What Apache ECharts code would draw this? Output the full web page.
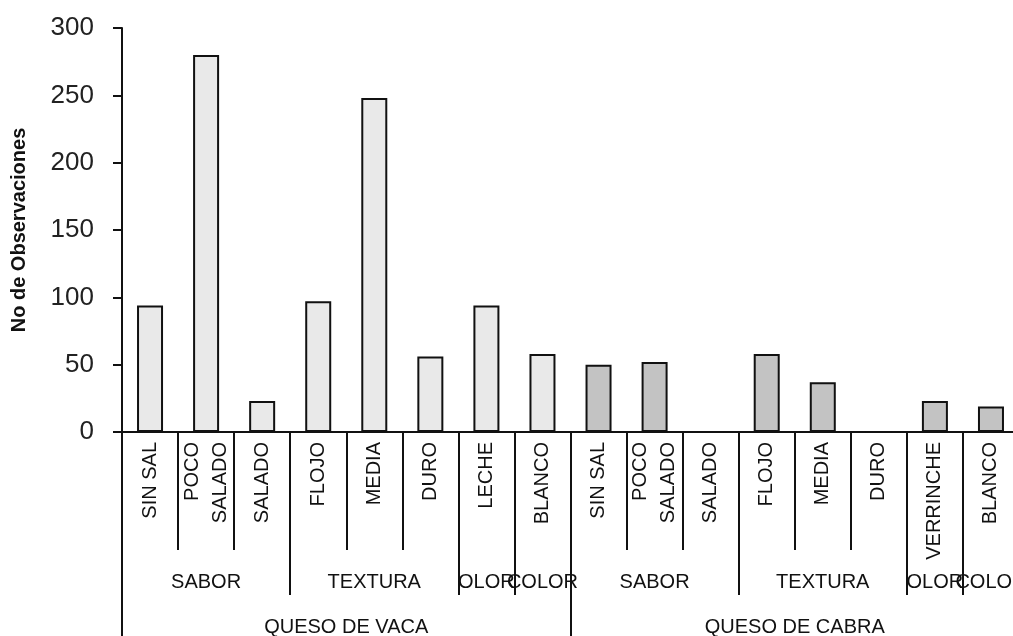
<!DOCTYPE html>
<html>
<head>
<meta charset="utf-8">
<script src="https://cdn.jsdelivr.net/npm/echarts@6/dist/echarts.min.js"></script>
<style>
  html, body { margin: 0; padding: 0; background: #fff; }
  #chart { width: 1013px; height: 636px; }
</style>
</head>
<body>
<div id="chart"></div>
<script>
// Cheese attributes, by milk type and attribute group
const categories = [
  'SIN SAL', 'POCO SALADO', 'SALADO', 'FLOJO', 'MEDIA', 'DURO', 'LECHE', 'BLANCO',
  'SIN SAL', 'POCO SALADO', 'SALADO', 'FLOJO', 'MEDIA', 'DURO', 'VERRINCHE', 'BLANCO'
];
const vacaValues  = [94, 280, 23, 97, 248, 56, 94, 58];
const cabraValues = [50, 52, 0, 58, 37, 0, 23, 19];

// Attribute groups: label and number of categories in each
const attrGroups = [
  ['SABOR', 3], ['TEXTURA', 3], ['OLOR', 1], ['COLOR', 1],
  ['SABOR', 3], ['TEXTURA', 3], ['OLOR', 1], ['COLOR', 1]
];
// Milk types: label and number of categories in each
const milkGroups = [['QUESO DE VACA', 8], ['QUESO DE CABRA', 8]];

const yTicks = { min: 0, max: 300, interval: 50 };
const yTitle = 'No de Observaciones';

const FONT = "'Liberation Sans', Arial, sans-serif";
const INK = '#111';

// Boundaries and centres of a grouping, in category units
function groupLayout(groups) {
  const bounds = [0], centres = [], names = {};
  let pos = 0;
  groups.forEach(([name, n]) => {
    const c = pos + n / 2;
    centres.push(c);
    names[c] = name;
    pos += n;
    bounds.push(pos);
  });
  return { bounds, centres, names };
}
const attrLayout = groupLayout(attrGroups);
const milkLayout = groupLayout(milkGroups);
const nCat = categories.length;

const pad = (arr, before, after) =>
  Array(before).fill(null).concat(arr, Array(after).fill(null));

// Group-level axis: long separator ticks at group edges, names at group centres.
// With padEnd, a blank label at the far end takes the max-label culling, so the
// overlapping last names (OLOR / COLOR) both stay visible.
function groupAxis(layout, tickLen, labelMargin, padEnd) {
  return {
    type: 'value',
    gridIndex: 0,
    position: 'bottom',
    min: 0,
    max: nCat,
    axisLine: { show: false },
    splitLine: { show: false },
    axisTick: {
      show: true,
      customValues: layout.bounds,
      length: tickLen,
      lineStyle: { color: INK, width: 2 }
    },
    axisLabel: {
      show: true,
      customValues: padEnd ? layout.centres.concat([nCat]) : layout.centres,
      formatter: v => layout.names[v] || '',
      margin: labelMargin,
      fontFamily: FONT,
      fontSize: 20,
      color: INK,
      hideOverlap: false,
      showMaxLabel: padEnd ? false : null
    }
  };
}

const chart = echarts.init(document.getElementById('chart'));
chart.setOption({
  animation: false,
  backgroundColor: '#fff',
  grid: {
    left: 122, right: -6, top: 28, bottom: 204,
    outerBoundsMode: 'none',
    containLabel: false
  },
  xAxis: [
    {
      type: 'category',
      data: categories,
      position: 'bottom',
      boundaryGap: true,
      axisLine: { show: true, lineStyle: { color: INK, width: 2 } },
      axisTick: {
        show: true, interval: 0, alignWithLabel: false, length: 118,
        lineStyle: { color: INK, width: 2 }
      },
      axisLabel: {
        interval: 0,
        rotate: 90,
        margin: 10,
        fontFamily: FONT,
        fontSize: 20,
        lineHeight: 28,
        color: INK,
        showMinLabel: true,
        showMaxLabel: true,
        formatter: v => v.replace('POCO ', 'POCO\n')
      },
      splitLine: { show: false }
    },
    groupAxis(attrLayout, 163, 140, true),
    groupAxis(milkLayout, 210, 185, false)
  ],
  yAxis: {
    type: 'value',
    min: yTicks.min,
    max: yTicks.max,
    interval: yTicks.interval,
    name: yTitle,
    nameLocation: 'middle',
    nameGap: 93,
    nameTextStyle: { fontFamily: FONT, fontSize: 20, fontWeight: 'bold', color: INK },
    axisLine: { show: true, lineStyle: { color: INK, width: 2 } },
    axisTick: { show: true, length: 9, lineStyle: { color: INK, width: 2 } },
    axisLabel: { margin: 28, fontFamily: FONT, fontSize: 26, color: '#222' },
    splitLine: { show: false }
  },
  series: [
    {
      name: 'QUESO DE VACA',
      type: 'bar',
      stack: 'q',
      xAxisIndex: 0,
      barWidth: 26,
      data: pad(vacaValues, 0, cabraValues.length),
      itemStyle: { color: '#e9e9e9', borderColor: INK, borderWidth: 2 }
    },
    {
      name: 'QUESO DE CABRA',
      type: 'bar',
      stack: 'q',
      xAxisIndex: 0,
      barWidth: 26,
      data: pad(cabraValues, vacaValues.length, 0),
      itemStyle: { color: '#c3c3c3', borderColor: INK, borderWidth: 2 }
    }
  ]
});
</script>
</body>
</html>
